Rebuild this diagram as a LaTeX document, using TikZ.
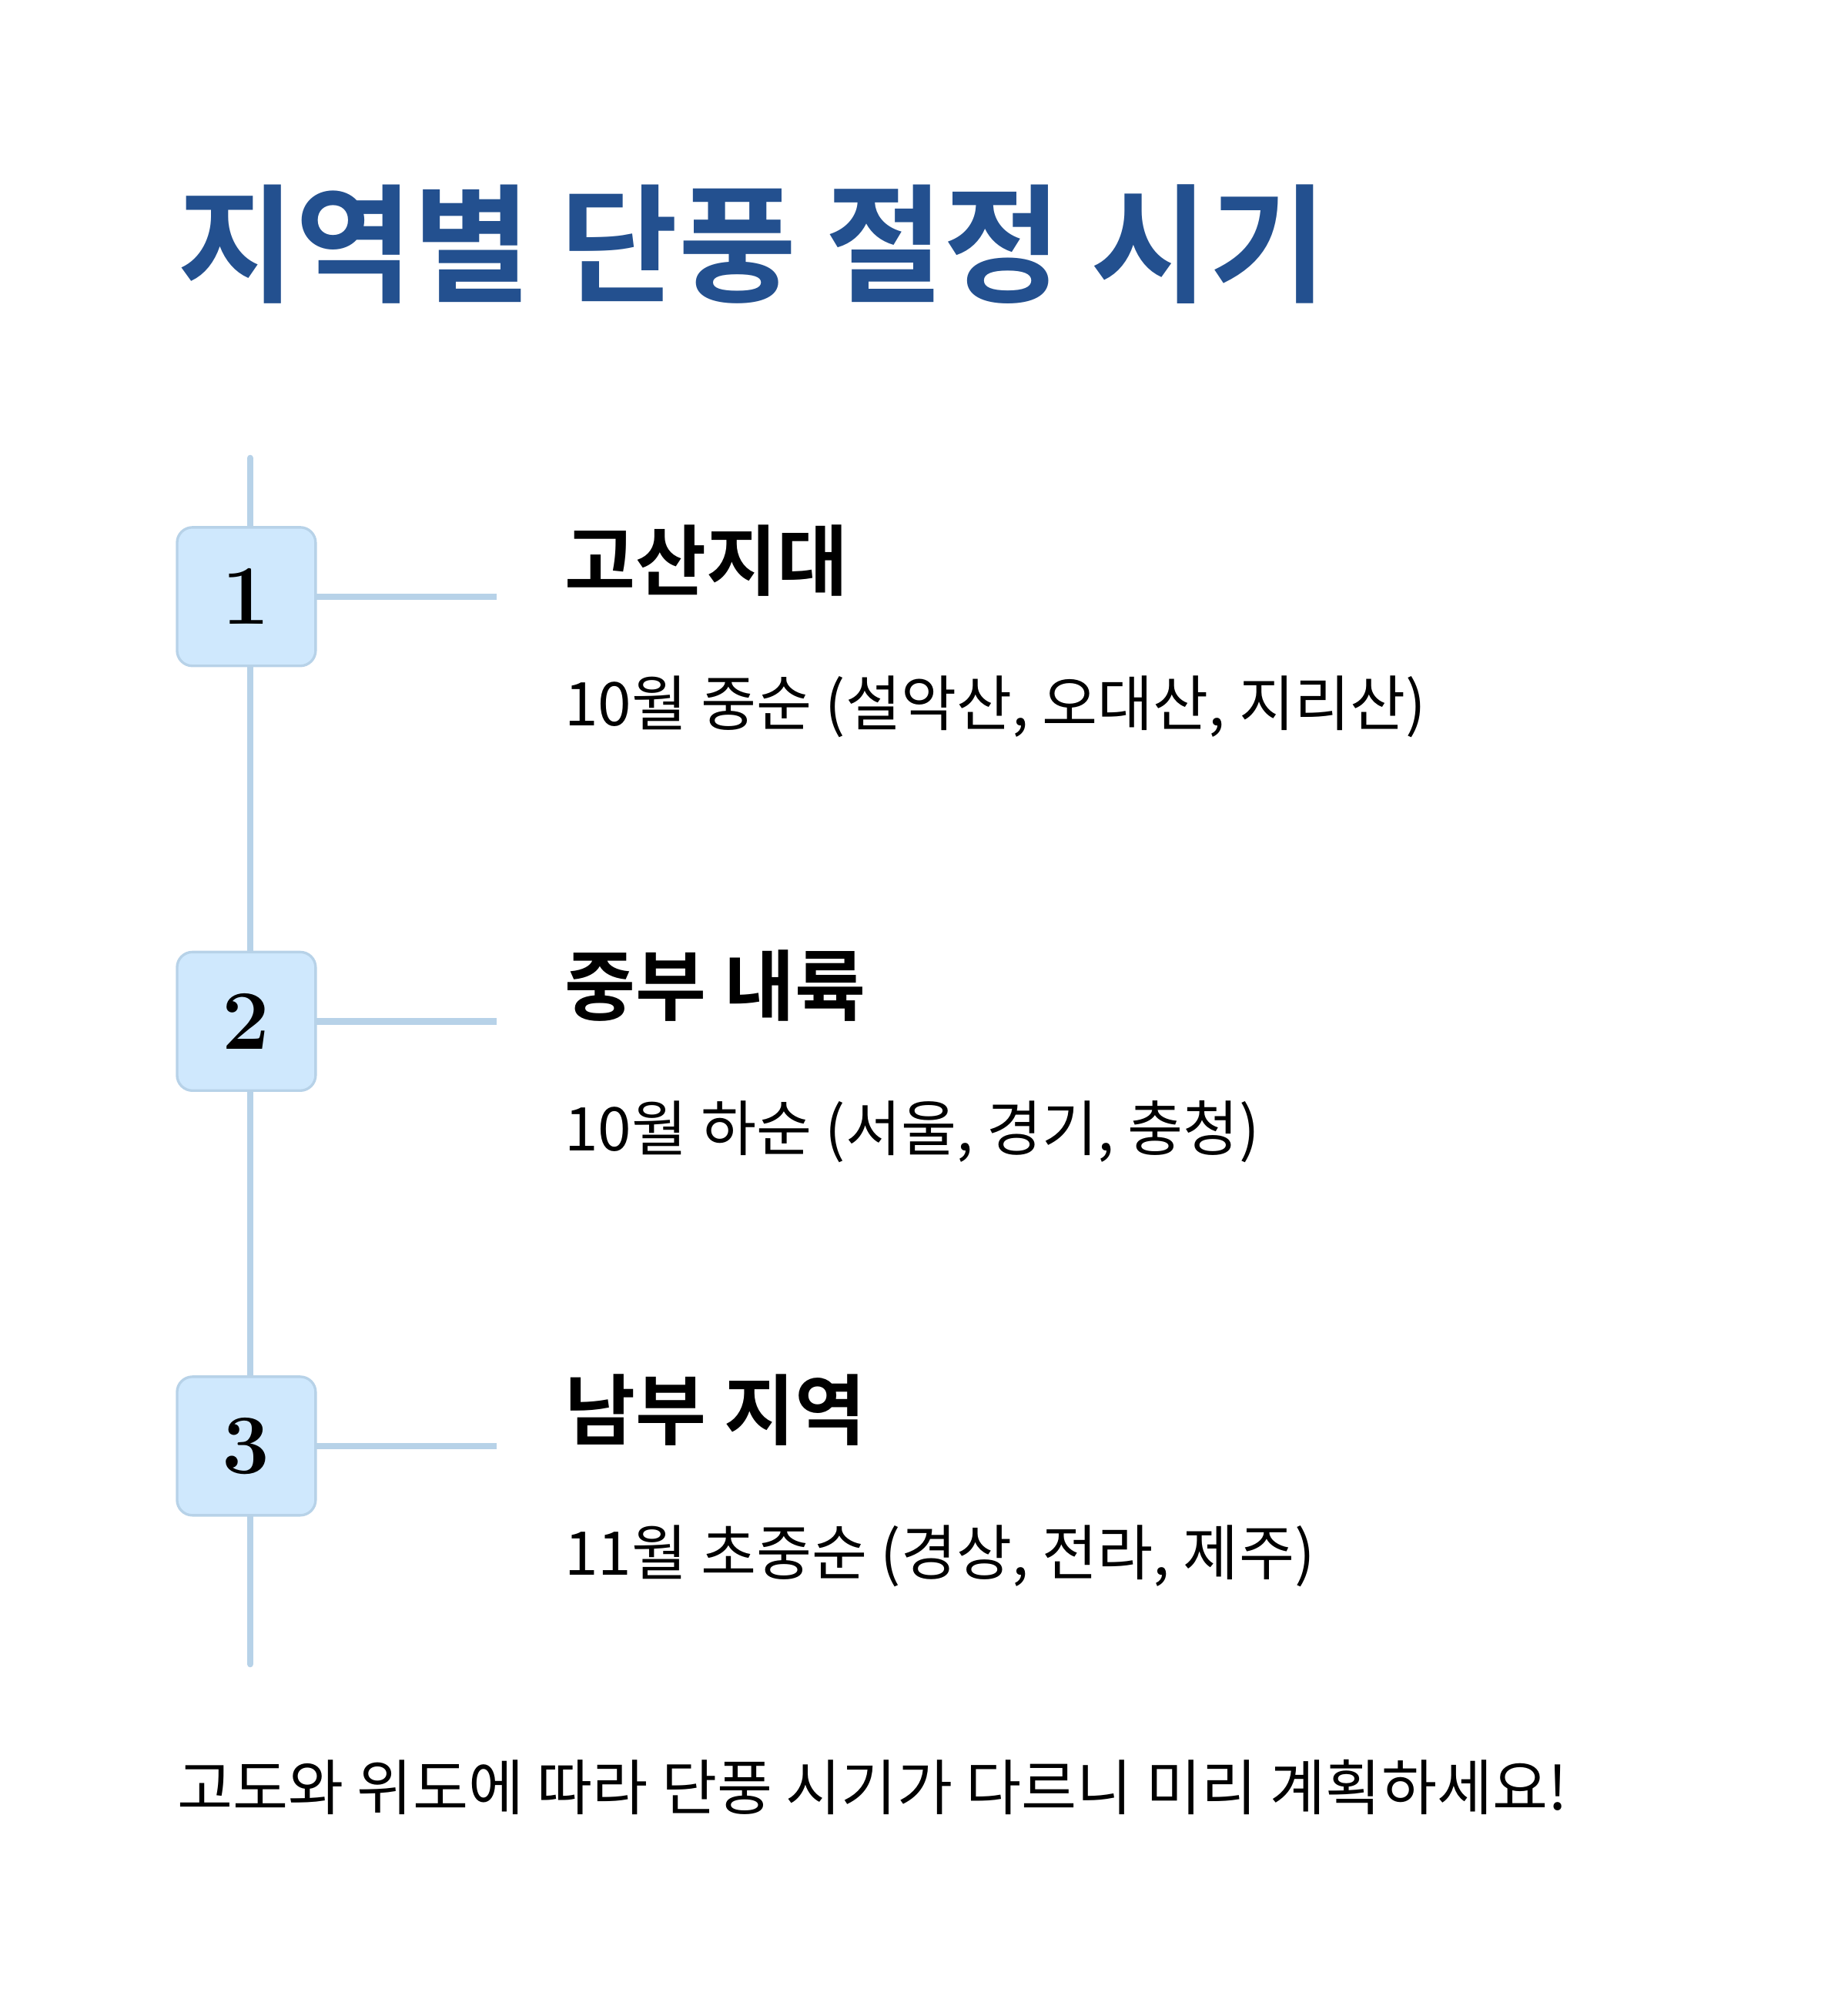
\documentclass[tikz,border=0pt]{standalone}
\usepackage{fontspec}
\newfontfamily\kr{Noto Sans CJK KR}[BoldFont={Noto Sans CJK KR Bold}]
\definecolor{titleblue}{HTML}{23508F}
\definecolor{linec}{HTML}{B7D2E8}
\definecolor{boxfill}{HTML}{CFE8FD}
\tikzset{
 numbox/.style={draw=linec,line width=2pt,fill=boxfill,rounded corners=12pt,minimum width=108pt,minimum height=108pt,inner sep=0pt,font=\fontsize{66}{66}\selectfont\bfseries},
 conn/.style={draw=linec,line width=5pt},
 head/.style={anchor=west,inner sep=0pt,font=\kr\bfseries\fontsize{60}{60}\selectfont},
 sub/.style={anchor=west,inner sep=0pt,font=\kr\fontsize{47}{47}\selectfont}
}
\begin{document}
\begin{tikzpicture}[x=1pt,y=1pt]
\useasboundingbox (0,0) rectangle (1440,-1558);
\node[anchor=base west,inner sep=0pt,text=titleblue,font=\kr\bfseries\fontsize{100}{100}\selectfont] (title) at (138,-228) {지역별 단풍 절정 시기};
\coordinate (top) at (195,-357);
\coordinate (bot) at (195,-1297);
\draw[conn,line cap=round] (top) -- (bot);
\foreach \n/\y/\h/\s in {1/465/고산지대/{10월 중순 (설악산, 오대산, 지리산)},2/796/중부 내륙/{10월 하순 (서울, 경기, 충청)},3/1127/남부 지역/{11월 초중순 (경상, 전라, 제주)}}{
  \coordinate (e\n) at (387,-\y);
  \draw[conn] (192,-\y) -- (e\n);
  \node[numbox] (b\n) at (192,-\y) {\n};
  \node[head] (h\n) at (440,-\y+28) {\h};
  \node[sub] (s\n) at (440,-\y-86) {\s};
}
\node[anchor=west,inner sep=0pt,font=\kr\fontsize{47}{47}\selectfont] (foot) at (138,-1393) {고도와 위도에 따라 단풍 시기가 다르니 미리 계획하세요!};
\end{tikzpicture}
\end{document}
